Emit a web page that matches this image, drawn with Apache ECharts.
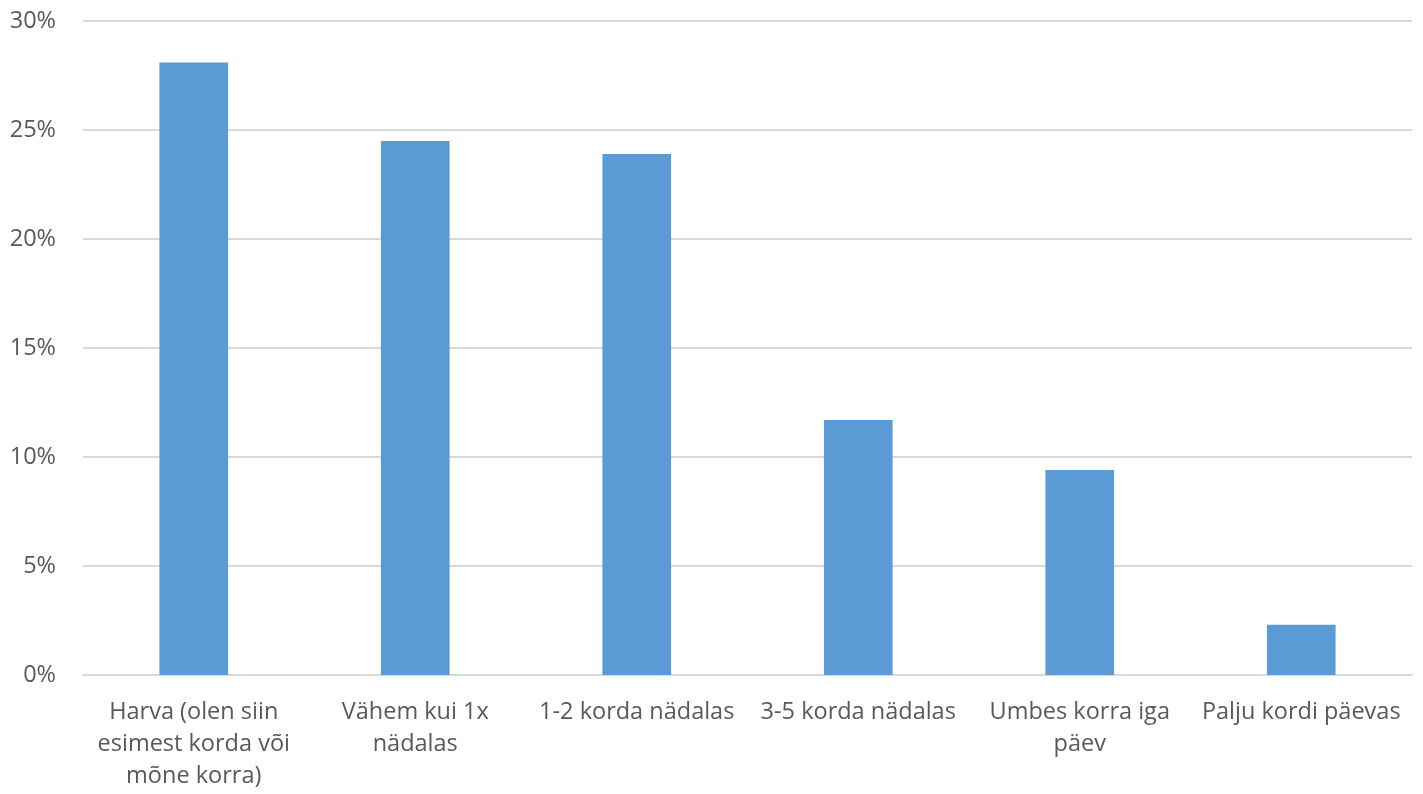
<!DOCTYPE html>
<html>
<head>
<meta charset="utf-8">
<script src="https://cdn.jsdelivr.net/npm/echarts@6/dist/echarts.min.js"></script>
<style>
  html, body { margin: 0; padding: 0; background: #fff; }
  #chart { width: 1423px; height: 794px; }
</style>
</head>
<body>
<div id="chart"></div>
<script>
const categories = [
  'Harva (olen siin\nesimest korda või\nmõne korra)',
  'Vähem kui 1x\nnädalas',
  '1-2 korda nädalas',
  '3-5 korda nädalas',
  'Umbes korra iga\npäev',
  'Palju kordi päevas'
];
const shares = [28.1, 24.5, 23.9, 11.7, 9.4, 2.3];

const chart = echarts.init(document.getElementById('chart'));
chart.setOption({
  animation: false,
  grid: { left: 83, right: 11, top: 21, bottom: 119, containLabel: false },
  xAxis: {
    type: 'category',
    data: categories,
    axisTick: { show: false },
    axisLine: { lineStyle: { color: '#d9d9d9', width: 2 } },
    axisLabel: {
      interval: 0,
      margin: 21,
      color: '#595959',
      fontSize: 23.5,
      lineHeight: 32,
      fontFamily: 'Open Sans'
    }
  },
  yAxis: {
    type: 'value',
    min: 0,
    max: 30,
    interval: 5,
    axisLine: { show: false },
    axisTick: { show: false },
    splitLine: { lineStyle: { color: '#d9d9d9', width: 2 } },
    axisLabel: {
      formatter: '{value}%',
      margin: 27,
      color: '#595959',
      fontSize: 23.5,
      fontFamily: 'Open Sans'
    }
  },
  series: [{
    type: 'bar',
    data: shares,
    barWidth: '31%',
    itemStyle: { color: '#5b9bd5' }
  }]
});
</script>
</body>
</html>
